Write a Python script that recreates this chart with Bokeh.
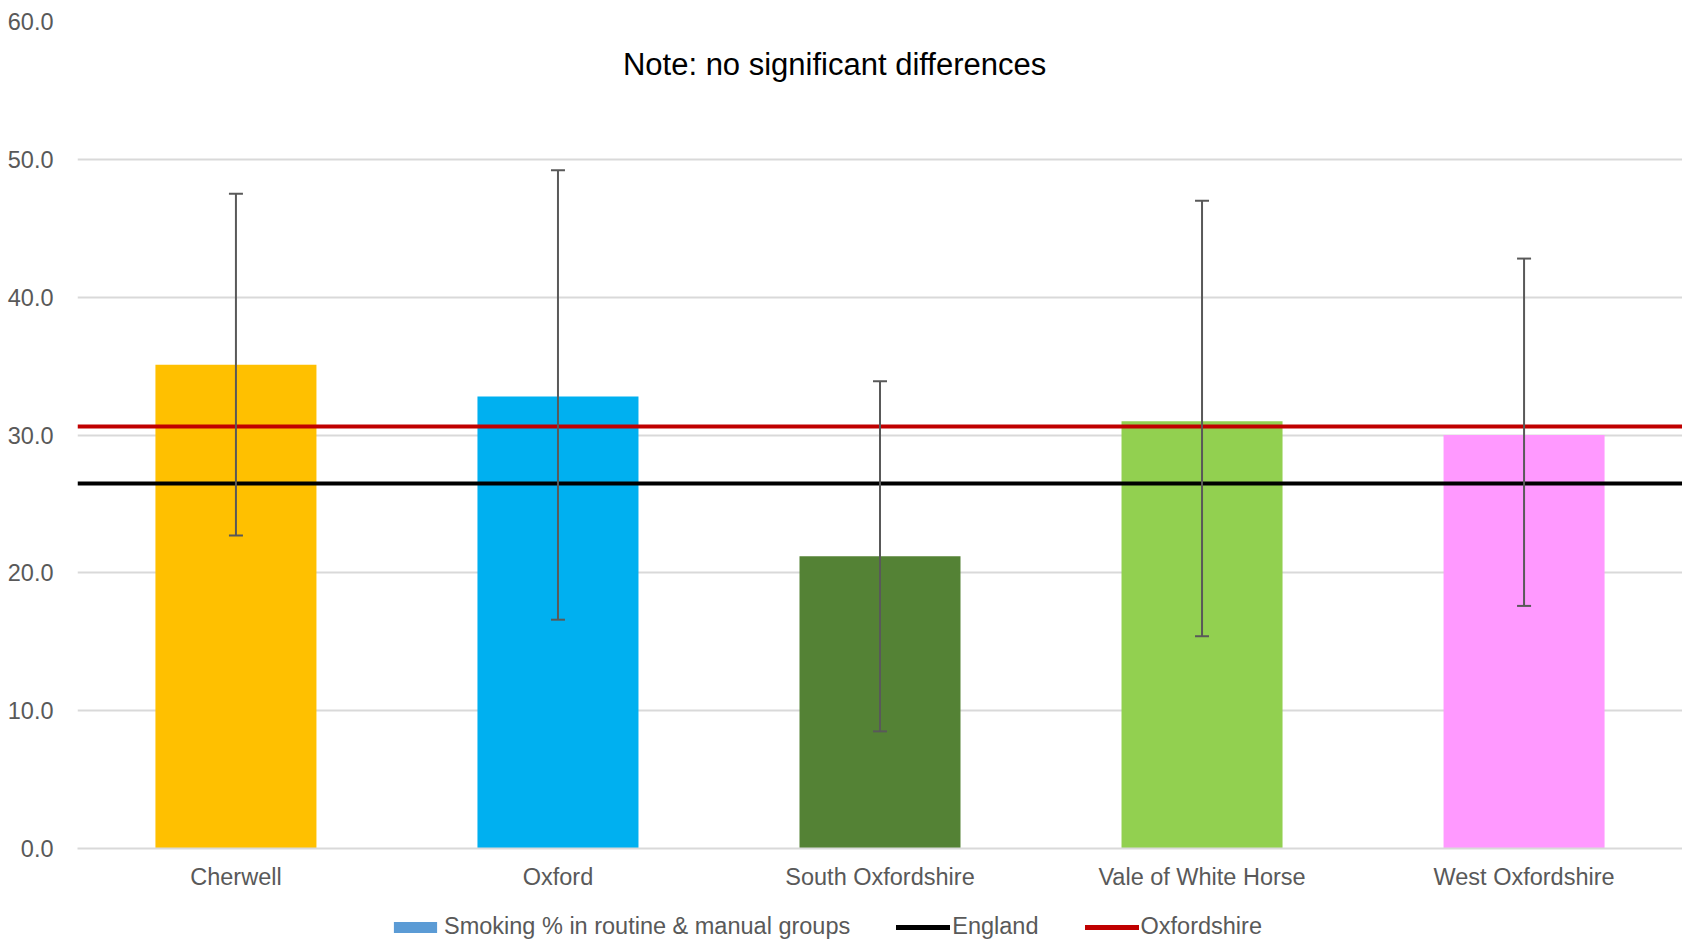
from bokeh.plotting import figure
from bokeh.layouts import column
from bokeh.models import (ColumnDataSource, Whisker, TeeHead, Legend, LegendItem,
                          NumeralTickFormatter, SingleIntervalTicker, Label, FactorRange, Range1d)
from bokeh.embed import file_html
from bokeh.resources import INLINE

districts = ["Cherwell", "Oxford", "South Oxfordshire", "Vale of White Horse", "West Oxfordshire"]
smoking = [35.1, 32.8, 21.2, 31.0, 30.0]
ci_lower = [22.7, 16.6, 8.5, 15.4, 17.6]
ci_upper = [47.5, 49.2, 33.9, 47.0, 42.8]
bar_colors = ["#FFC000", "#00B0F0", "#548235", "#92D050", "#FF99FF"]
england = 26.5
oxfordshire = 30.6
title_text = "Note: no significant differences"
series_label = "Smoking % in routine & manual groups"
legend_labels = [series_label, "England", "Oxfordshire"]

FONT = "Liberation Sans"
GREY = "#595959"
ENG_COLOR = "black"
OXF_COLOR = "#C00000"
SERIES_COLOR = "#5B9BD5"
FS = "23.5px"

src = ColumnDataSource(dict(x=districts, top=smoking, lower=ci_lower, upper=ci_upper, color=bar_colors))

xr = FactorRange(*districts, range_padding=-0.008, range_padding_units="absolute")
p = figure(x_range=xr, y_range=(0, 60), width=1682, height=900,
           output_backend="svg", toolbar_location=None,
           min_border_left=77, min_border_right=0, min_border_top=21, min_border_bottom=52)
p.outline_line_color = None
p.background_fill_color = "white"

p.vbar(x="x", top="top", width=0.5, fill_color="color", line_color=None, source=src)
p.hspan(y=[england], line_color=ENG_COLOR, line_width=4)
p.hspan(y=[oxfordshire], line_color=OXF_COLOR, line_width=4)

wh = Whisker(source=src, base="x", upper="upper", lower="lower", line_color=GREY, line_width=2,
             upper_head=TeeHead(size=14, line_color=GREY, line_width=2),
             lower_head=TeeHead(size=14, line_color=GREY, line_width=2), level="annotation")
p.add_layout(wh)

# axes
p.yaxis.ticker = SingleIntervalTicker(interval=10)
p.yaxis.formatter = NumeralTickFormatter(format="0.0")
p.yaxis.axis_line_color = None
p.yaxis.major_tick_line_color = None
p.yaxis.minor_tick_line_color = None
p.yaxis.major_tick_out = 0
p.yaxis.major_label_standoff = 20
p.yaxis.major_label_text_font = FONT
p.yaxis.major_label_text_font_size = FS
p.yaxis.major_label_text_color = GREY

p.xaxis.axis_line_color = "#D9D9D9"
p.xaxis.axis_line_width = 2
p.xaxis.major_tick_line_color = None
p.xaxis.minor_tick_line_color = None
p.xaxis.major_tick_out = 0
p.xaxis.major_label_standoff = 15
p.xaxis.major_label_text_font = FONT
p.xaxis.major_label_text_font_size = FS
p.xaxis.major_label_text_color = GREY

p.xgrid.grid_line_color = None
p.ygrid.grid_line_color = "#D9D9D9"
p.ygrid.grid_line_width = 2

p.add_layout(Label(x=2.359, y=56.9, text=title_text, text_align="center", text_baseline="middle",
                   text_font=FONT, text_font_size="31px", text_color="black"))

# legend strip below the chart
lg = figure(width=1682, height=40, output_backend="svg", toolbar_location=None,
            x_range=Range1d(10, 11), y_range=Range1d(10, 11),
            x_axis_location=None, y_axis_location=None,
            min_border_left=0, min_border_right=0, min_border_top=0, min_border_bottom=0)
lg.outline_line_color = None
lg.grid.visible = False
r_bar = lg.vbar(x=[0], top=[1], width=0.5, fill_color=SERIES_COLOR, line_color=None)
r_eng = lg.line(x=[0, 1], y=[0, 0], line_color=ENG_COLOR, line_width=5, line_cap="round")
r_oxf = lg.line(x=[0, 1], y=[0, 0], line_color=OXF_COLOR, line_width=5, line_cap="round")

legend = Legend(items=[LegendItem(label=legend_labels[0], renderers=[r_bar]),
                       LegendItem(label=legend_labels[1], renderers=[r_eng]),
                       LegendItem(label=legend_labels[2], renderers=[r_oxf])],
                orientation="horizontal", location=(311, 0),
                glyph_width=54, glyph_height=14, label_standoff=2, spacing=46,
                padding=0, margin=0, border_line_color=None, background_fill_alpha=0,
                label_text_font=FONT, label_text_font_size=FS, label_text_color=GREY,
                label_height=24)
lg.add_layout(legend)

layout = column(p, lg, spacing=0)
open("out.html", "w").write(file_html(layout, INLINE))
